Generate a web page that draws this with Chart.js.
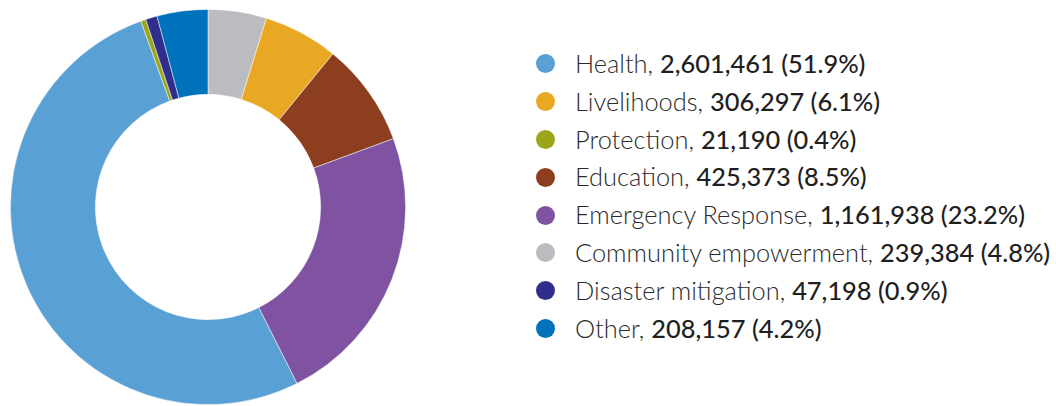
<!DOCTYPE html>
<html>
<head>
<meta charset="utf-8">
<script src="https://cdn.jsdelivr.net/npm/chart.js@4/dist/chart.umd.min.js"></script>
<style>
  html, body { margin: 0; padding: 0; background: #fff; }
  body { width: 1056px; height: 406px; position: relative; overflow: hidden; }
  #chartBox { position: absolute; left: 10px; top: 8px; width: 396px; height: 398px; }
  #legend { position: absolute; left: 536px; top: 45px; list-style: none; margin: 0; padding: 0;
            font-family: "Lato", "Open Sans", sans-serif; font-size: 25.4px; color: #2b2b2b; }
  #legend li { height: 37.8px; line-height: 37.8px; white-space: nowrap; display: flex; align-items: center; }
  #legend .dot { width: 19px; height: 19px; border-radius: 50%; display: inline-block; margin-right: 20px; flex: none; }
  #legend .name { font-weight: 300; }
  #legend .val { font-weight: 500; color: #1f1f1f; }
</style>
</head>
<body>
<div id="chartBox"><canvas id="c"></canvas></div>
<ul id="legend"></ul>
<script>
// Sectors in drawing order (clockwise from 12 o'clock)
const categories = ["Community empowerment", "Livelihoods", "Education", "Emergency Response",
                    "Health", "Protection", "Disaster mitigation", "Other"];
const beneficiaries = [239384, 306297, 425373, 1161938, 2601461, 21190, 47198, 208157];
const shares = ["4.8%", "6.1%", "8.5%", "23.2%", "51.9%", "0.4%", "0.9%", "4.2%"];
const colours = ["#bbbcc0", "#e8a823", "#8d3e1f", "#7f53a2", "#59a0d4", "#9ca61a", "#2f2e8c", "#0072bb"];
// Order of entries in the key
const legendOrder = ["Health", "Livelihoods", "Protection", "Education", "Emergency Response",
                     "Community empowerment", "Disaster mitigation", "Other"];

new Chart(document.getElementById("c"), {
  type: "doughnut",
  data: {
    labels: categories,
    datasets: [{
      data: beneficiaries,
      backgroundColor: colours,
      borderColor: "rgba(255,255,255,0.6)",
      borderWidth: 0.8
    }]
  },
  options: {
    responsive: true,
    maintainAspectRatio: false,
    animation: false,
    cutout: "57%",
    rotation: 0,
    layout: { padding: 0 },
    plugins: { legend: { display: false }, tooltip: { enabled: false } }
  }
});

const fmt = n => n.toLocaleString("en-US");
const ul = document.getElementById("legend");
legendOrder.forEach(name => {
  const i = categories.indexOf(name);
  const li = document.createElement("li");
  const dot = document.createElement("span");
  dot.className = "dot";
  dot.style.background = colours[i];
  const nm = document.createElement("span");
  nm.className = "name";
  nm.textContent = name + ",\u00a0";
  const v = document.createElement("span");
  v.className = "val";
  v.textContent = fmt(beneficiaries[i]) + " (" + shares[i] + ")";
  li.append(dot, nm, v);
  ul.appendChild(li);
});
</script>
</body>
</html>
